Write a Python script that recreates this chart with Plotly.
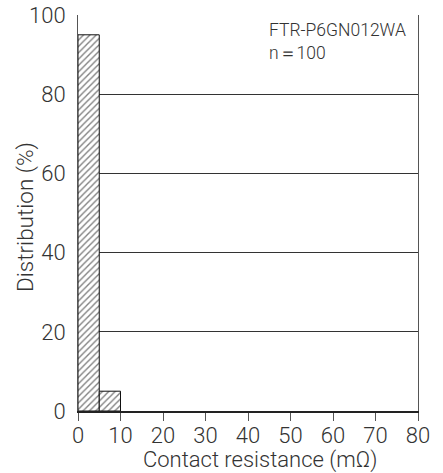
import plotly.graph_objects as go

bin_centers = [2.5, 7.5]
distribution = [95, 5]
bin_width = [5, 5]
x_ticks = [0, 10, 20, 30, 40, 50, 60, 70, 80]
y_ticks = [0, 20, 40, 60, 80, 100]

FONT = "Roboto"
W = 300
fig = go.Figure()
fig.add_trace(go.Bar(
    x=bin_centers, y=distribution, width=bin_width,
    marker=dict(color="white",
                line=dict(color="#111111", width=1),
                pattern=dict(shape="/", fgcolor="#000000", bgcolor="white",
                             size=4.5, solidity=0.3)),
    showlegend=False,
))
fig.update_layout(
    width=443, height=473,
    margin=dict(l=78, r=25, t=15, b=62),
    paper_bgcolor="white", plot_bgcolor="white",
    font=dict(family=FONT, size=22, color="#333333", weight=W),
    xaxis=dict(range=[0, 80], tickvals=x_ticks, showgrid=False, automargin=False,
               showline=True, linecolor="#222222", linewidth=2,
               ticks="outside", ticklen=8, tickcolor="#555555", tickwidth=1,
               ticklabelstandoff=-4, zeroline=False),
    yaxis=dict(range=[0, 100], tickvals=y_ticks, showgrid=True, automargin=False,
               gridcolor="#333333", gridwidth=1,
               showline=True, mirror=True, linecolor="#555555", linewidth=1,
               ticks="", ticklabelstandoff=7, zeroline=False),
    annotations=[
        dict(text="FTR-P6GN012WA<br>n＝100", xref="paper", yref="paper",
             x=0.556, y=1, xanchor="left", yanchor="top", yshift=-3,
             align="left", showarrow=False,
             font=dict(family=FONT, size=17.5, color="#333333", weight=W)),
        dict(text="Contact resistance (mΩ)", xref="paper", yref="paper",
             x=0.534, y=-0.124, xanchor="center", yanchor="middle",
             showarrow=False,
             font=dict(family=FONT, size=22, color="#333333", weight=W)),
        dict(text="Distribution (%)", xref="paper", yref="paper",
             x=-0.153, y=0.49, xanchor="center", yanchor="middle", textangle=-90,
             showarrow=False,
             font=dict(family=FONT, size=22.5, color="#333333", weight=W)),
    ],
)
fig.write_html("out.html", config={"displayModeBar": False},
               post_script="document.body.style.margin='0';")
